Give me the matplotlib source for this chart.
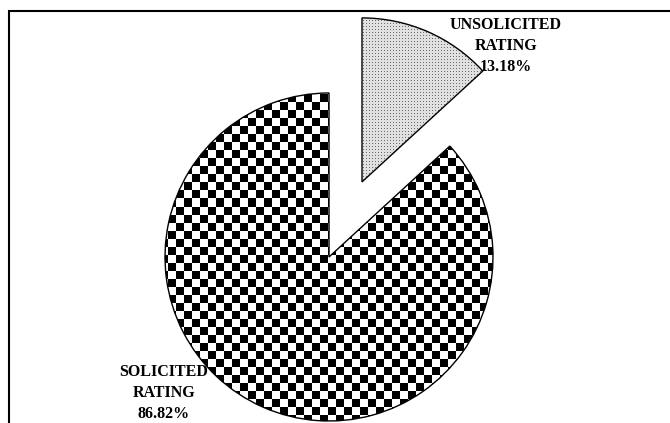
import numpy as np
import matplotlib
matplotlib.use("Agg")
import matplotlib.pyplot as plt
from matplotlib.patches import Rectangle

# data
categories = ["UNSOLICITED\nRATING", "SOLICITED\nRATING"]
shares = [13.18, 86.82]
value_labels = ["13.18%", "86.82%"]

W, H = 670, 423
fig = plt.figure(figsize=(W / 100, H / 100), dpi=100)
ax = fig.add_axes([0, 0, 1, 1])

R = 164
center = (329, H - 257)
wedges, _ = ax.pie(shares, radius=R, center=center, startangle=90,
                   counterclock=False, explode=[82, 0],
                   wedgeprops=dict(facecolor="none", edgecolor="black", linewidth=1.0),
                   frame=True)
ax.set_xlim(0, W)
ax.set_ylim(0, H)
ax.set_aspect("equal")
ax.axis("off")

# checkerboard fill for solicited
sq = 8
nr, nc = H // sq + 2, W // sq + 2
chk = (np.add.outer(np.arange(nr), np.arange(nc)) % 2).astype(float)
im1 = ax.imshow(chk, cmap="gray", vmin=0, vmax=1, extent=(0, nc * sq, 0, nr * sq),
                interpolation="nearest", origin="lower", zorder=0.5, aspect="auto")
im1.set_clip_path(wedges[1])

# dotted fill for unsolicited
dots = np.full((H, W), 0.88)
dots[::3, ::3] = 0.42
im2 = ax.imshow(dots, cmap="gray", vmin=0, vmax=1, extent=(0, W, 0, H),
                interpolation="nearest", origin="lower", zorder=0.5, aspect="auto")
im2.set_clip_path(wedges[0])
for w in wedges:
    w.set_zorder(2)

# frame
ax.add_patch(Rectangle((9, -20), W, H - 10.5 + 20, fill=False, edgecolor="black",
                       linewidth=1.5, zorder=3))

font = dict(family=["Liberation Serif", "DejaVu Serif"], fontweight="bold", fontsize=11.5)
ax.text(506, H - 46, categories[0] + "\n" + value_labels[0], ha="center", va="center",
        linespacing=1.4, **font, zorder=4)
ax.text(164, H - 393, categories[1] + "\n" + value_labels[1], ha="center", va="center",
        linespacing=1.4, **font, zorder=4)

fig.savefig("out.png", dpi=100)
